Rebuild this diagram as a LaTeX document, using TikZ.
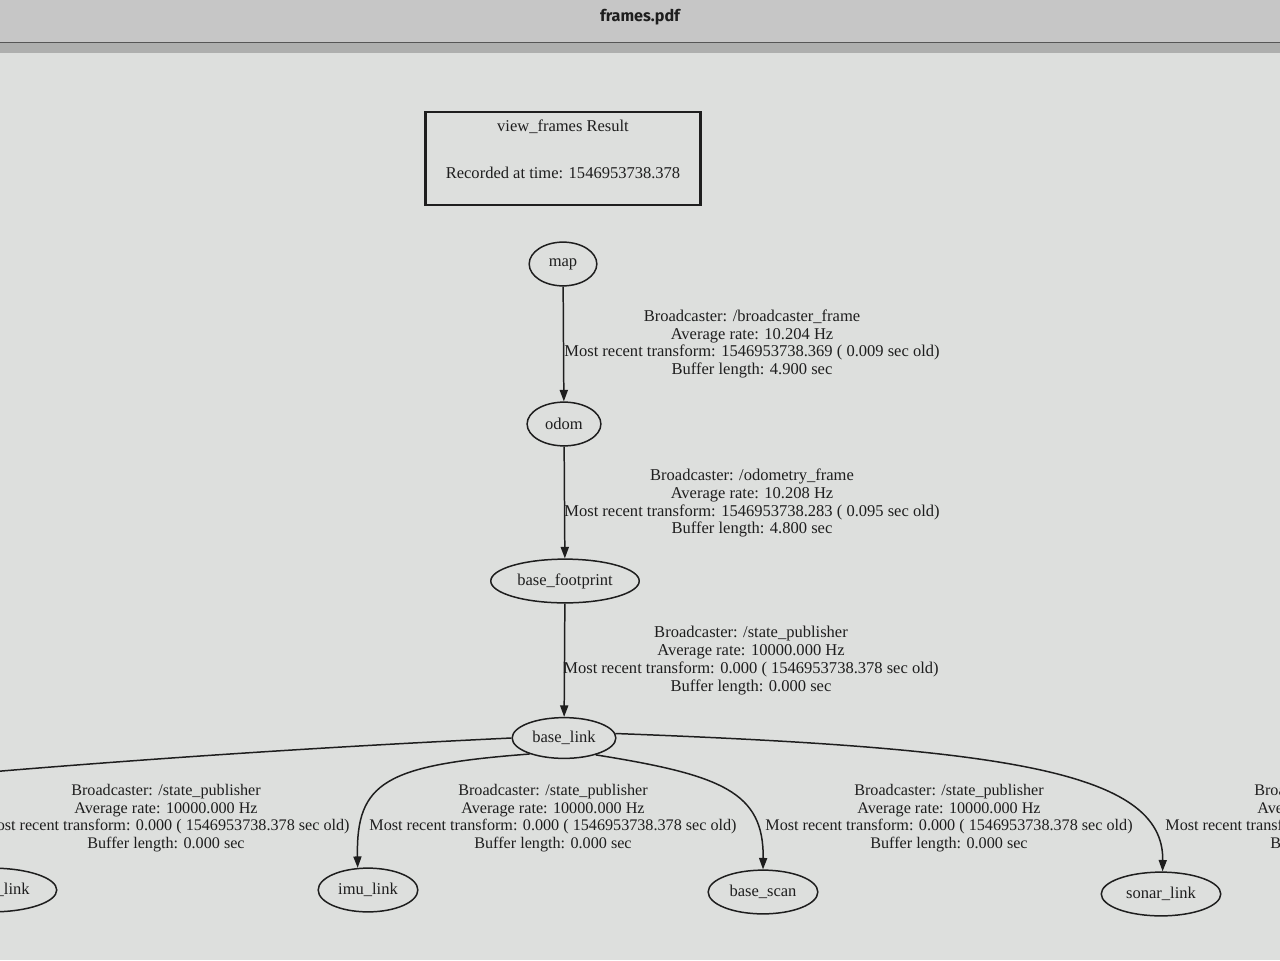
\documentclass[tikz,border=0pt]{standalone}
\usepackage{fontspec}
\setmainfont{Liberation Serif}
\newfontfamily\barfont{Fira Sans}
\usetikzlibrary{arrows.meta,shapes.geometric}
\definecolor{pagebg}{HTML}{DDDFDD}
\definecolor{barbg}{HTML}{C6C6C6}
\definecolor{bandbg}{HTML}{AEAFAE}
\definecolor{ink}{HTML}{1E1E1E}
\tikzset{
  frame/.style={ellipse, draw=ink, line width=0.85pt, inner sep=0pt, minimum height=24.9pt, text=ink, font=\fontsize{9.4}{10.2}\selectfont},
  lbl/.style={align=center, text=ink, inner sep=0pt, font=\fontsize{9.4}{10.2}\selectfont},
  lowlbl/.style={lbl, font=\fontsize{9.2}{10.1}\selectfont},
  tf/.style={draw=ink, line width=0.85pt, -{Triangle[length=6.5pt,width=4.6pt]}},
}
\begin{document}
\begin{tikzpicture}[x=0.02cm, y=-0.02cm]
\useasboundingbox (0,0) rectangle (1280,960);
\clip (0,0) rectangle (1280,960);
% window chrome
\fill[pagebg] (0,0) rectangle (1280,960);
\fill[barbg] (0,0) rectangle (1280,42);
\fill[bandbg] (0,43) rectangle (1280,53);
\draw[ink!75, line width=1.1pt] (0,42.5) -- (1280,42.5);
\node[font=\barfont\bfseries\fontsize{9.2}{11}\selectfont, text=ink] (title) at (640,17) {frames.pdf};

% header box
\node[draw=ink, line width=1.4pt, minimum width=156.5pt, minimum height=52.7pt, inner sep=0pt] (box) at (563,158.5) {};
\node[lbl] (boxtxt) at (563,149.5) {view\_frames Result\\[16.4pt]Recorded at time: 1546953738.378};

% frames
\node[frame, minimum width=38.5pt] (map) at (563,264) {map};
\node[frame, minimum width=42pt] (odom) at (564,424) {odom};
\node[frame, minimum width=84.5pt] (fp) at (565,581) {base\_footprint};
\node[frame, minimum width=59pt, minimum height=23.2pt] (bl) at (564,738) {base\_link};
\node[frame, minimum width=73.7pt] (left) at (-8,890) {\hspace*{23.5pt}\_link};
\node[frame, minimum width=56.7pt] (imu) at (368,890) {imu\_link};
\node[frame, minimum width=62.4pt] (scan) at (763,892) {base\_scan};
\node[frame, minimum width=68pt] (sonar) at (1161,894) {sonar\_link};
\coordinate (offleft) at (-80,778);

% edges
\draw[tf] (map) -- (odom);
\draw[tf] (odom) -- (fp);
\draw[tf] (fp) -- (bl);
\draw[draw=ink, line width=0.85pt] (bl.180) .. controls (300,748) and (100,762) .. (offleft);
\draw[tf] (bl.205) .. controls (385,765) and (356,782) .. (imu.115);
\draw[tf] (bl.-28) .. controls (722,775) and (764,792) .. (scan.north);
\draw[tf] (bl.5) .. controls (1000,748) and (1164,770) .. (sonar.86);

% edge labels
\node[lbl] (l1) at (752,344) {Broadcaster: /broadcaster\_frame\\Average rate: 10.204 Hz\\Most recent transform: 1546953738.369 ( 0.009 sec old)\\Buffer length: 4.900 sec};
\node[lbl] (l2) at (752,503) {Broadcaster: /odometry\_frame\\Average rate: 10.208 Hz\\Most recent transform: 1546953738.283 ( 0.095 sec old)\\Buffer length: 4.800 sec};
\node[lbl] (l3) at (751,660.5) {Broadcaster: /state\_publisher\\Average rate: 10000.000 Hz\\Most recent transform: 0.000 ( 1546953738.378 sec old)\\Buffer length: 0.000 sec};
\node[lowlbl] (l4) at (166,818) {Broadcaster: /state\_publisher\\Average rate: 10000.000 Hz\\Most recent transform: 0.000 ( 1546953738.378 sec old)\\Buffer length: 0.000 sec};
\node[lowlbl] (l5) at (553,818) {Broadcaster: /state\_publisher\\Average rate: 10000.000 Hz\\Most recent transform: 0.000 ( 1546953738.378 sec old)\\Buffer length: 0.000 sec};
\node[lowlbl] (l6) at (949,818) {Broadcaster: /state\_publisher\\Average rate: 10000.000 Hz\\Most recent transform: 0.000 ( 1546953738.378 sec old)\\Buffer length: 0.000 sec};
\node[lowlbl] (l7) at (1349,818) {Broadcaster: /state\_publisher\\Average rate: 10000.000 Hz\\Most recent transform: 0.000 ( 1546953738.378 sec old)\\Buffer length: 0.000 sec};
\end{tikzpicture}
\end{document}
